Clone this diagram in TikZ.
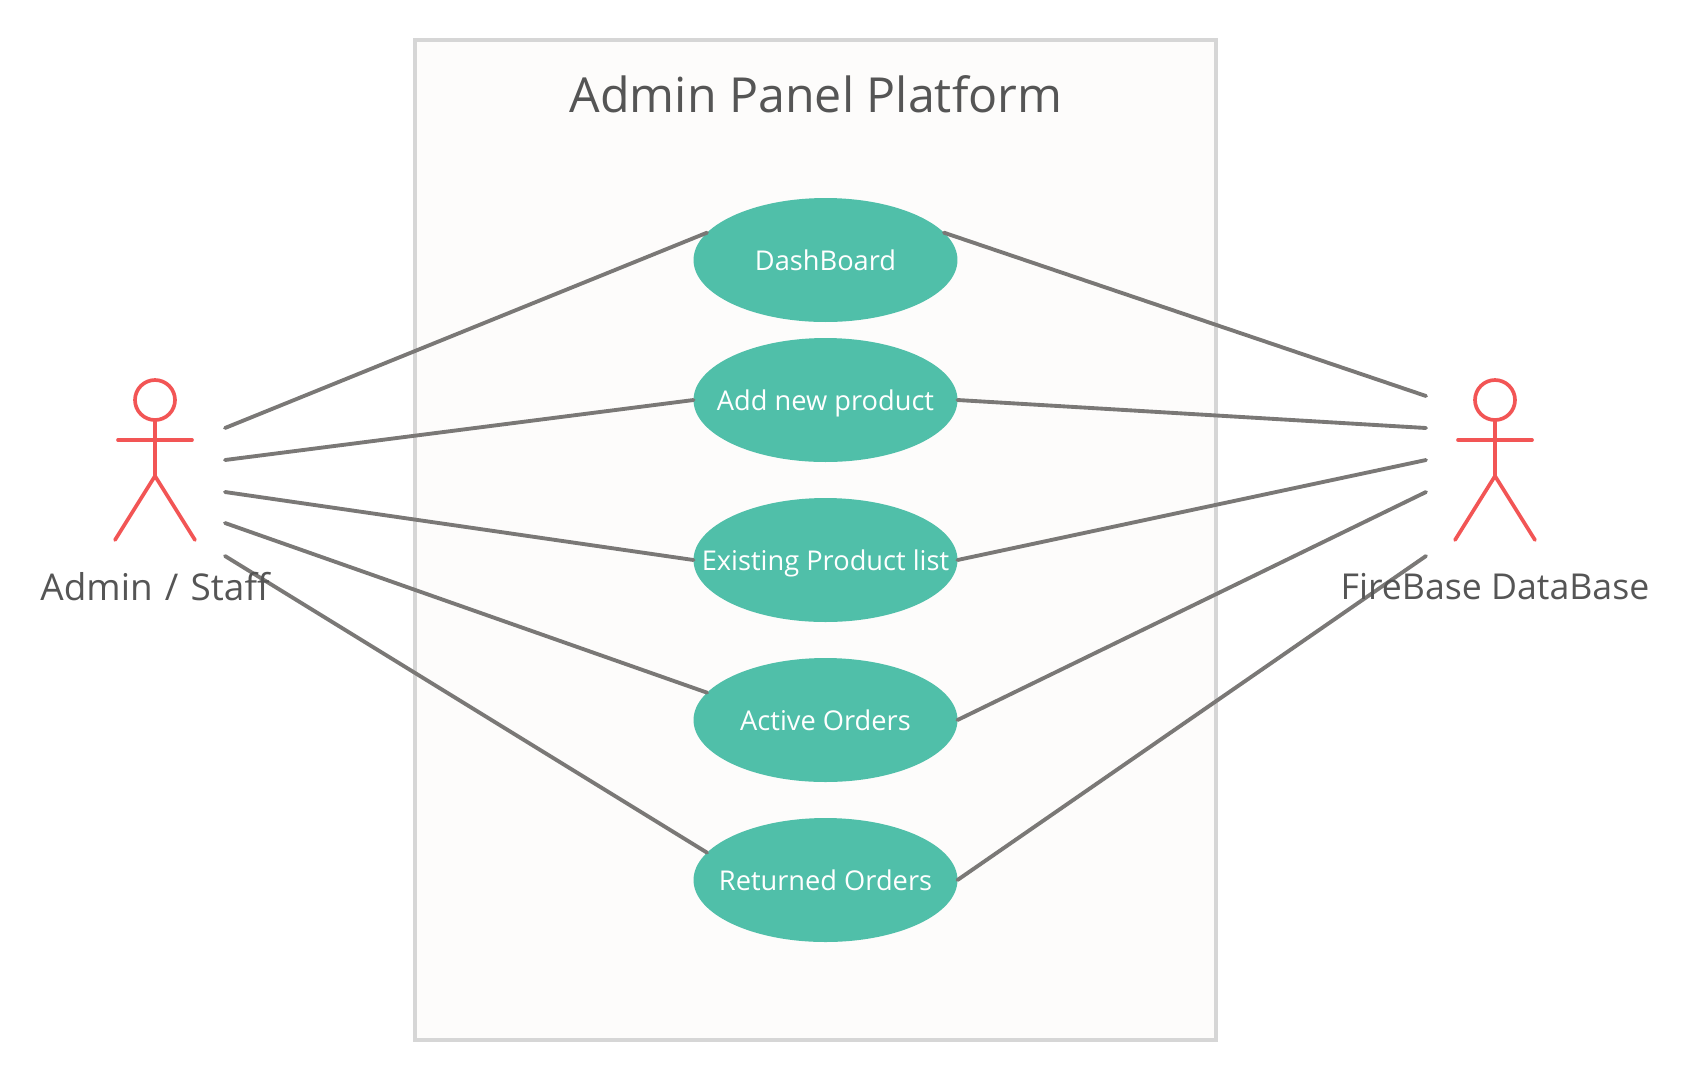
\documentclass[tikz,border=0pt]{standalone}
\usepackage{fontspec}
\setmainfont{Open Sans}
\usetikzlibrary{shapes.geometric,positioning}
\definecolor{panelfill}{HTML}{FDFCFB}
\definecolor{panelline}{HTML}{D6D6D6}
\definecolor{usecasefill}{HTML}{50BFA9}
\definecolor{actorline}{HTML}{F25555}
\definecolor{linkline}{HTML}{7A7876}
\definecolor{labeltext}{HTML}{555555}
\tikzset{
panel/.style={draw=panelline,fill=panelfill,line width=2.1pt},
usecase/.style={ellipse,fill=usecasefill,minimum width=5.28cm,minimum height=2.48cm,inner xsep=-2cm,inner ysep=0pt,outer sep=0pt,text height=12pt,text depth=0pt,text=white,font=\fontsize{15.5}{18}\selectfont},
actor/.style={actorline,line width=2.1pt,line cap=round,line join=round},
head/.style={circle,draw=actorline,line width=2.1pt,minimum size=0.8cm,inner sep=0pt,outer sep=0pt},
link/.style={linkline,line width=2.2pt,line cap=round},
title/.style={text=labeltext,font=\fontsize{27.5}{32}\selectfont},
actorlabel/.style={text=labeltext,font=\fontsize{20.3}{24}\selectfont}
}
\begin{document}
\begin{tikzpicture}[x=0.02cm,y=-0.02cm]
\useasboundingbox (0,0) rectangle (1690,1080);
\draw[panel] (415,40) rectangle (1216,1040);
\node[title] (paneltitle) at (816,94) {Admin Panel Platform};
\node[usecase] (dash) at (825.5,260) {DashBoard};
\node[usecase] (addnew) at (825.5,400) {Add new product};
\node[usecase] (existing) at (825.5,560) {Existing Product list};
\node[usecase] (active) at (825.5,720) {Active Orders};
\node[usecase] (returned) at (825.5,880) {Returned Orders};
% admin actor
\node[head] (headA) at (155,400) {};
\coordinate (hipA) at (155,476);
\coordinate (armAl) at (118,440);
\coordinate (armAr) at (192,440);
\coordinate (legAl) at (115,540);
\coordinate (legAr) at (195,540);
\draw[actor] (headA) -- (hipA);
\draw[actor] (armAl) -- (armAr);
\draw[actor] (legAl) -- (hipA) -- (legAr);
% firebase actor
\node[head] (headB) at (1495,400) {};
\coordinate (hipB) at (1495,476);
\coordinate (armBl) at (1458,440);
\coordinate (armBr) at (1532,440);
\coordinate (legBl) at (1455,540);
\coordinate (legBr) at (1535,540);
\draw[actor] (headB) -- (hipB);
\draw[actor] (armBl) -- (armBr);
\draw[actor] (legBl) -- (hipB) -- (legBr);
% free ends of the links
\foreach \nm/\yy in {a/428,b/460,c/492,d/523,e/556}
  \coordinate (left\nm) at (225,\yy);
\foreach \nm/\yy in {a/396,b/428,c/460,d/492,e/556}
  \coordinate (right\nm) at (1426,\yy);
\draw[link] (lefta) -- (dash.167);
\draw[link] (leftb) -- (addnew.west);
\draw[link] (leftc) -- (existing.west);
\draw[link] (leftd) -- (active.167);
\draw[link] (lefte) -- (returned.167);
\draw[link] (dash.13) -- (righta);
\draw[link] (addnew.east) -- (rightb);
\draw[link] (existing.east) -- (rightc);
\draw[link] (active.east) -- (rightd);
\draw[link] (returned.east) -- (righte);
\node[actorlabel,font=\fontsize{21}{24}\selectfont] (adminlabel) at (155,587) {Admin\hspace{1.5pt} / \hspace{1.5pt}Staff};
\node[actorlabel] (fblabel) at (1495,587) {FireBase DataBase};
\end{tikzpicture}
\end{document}
